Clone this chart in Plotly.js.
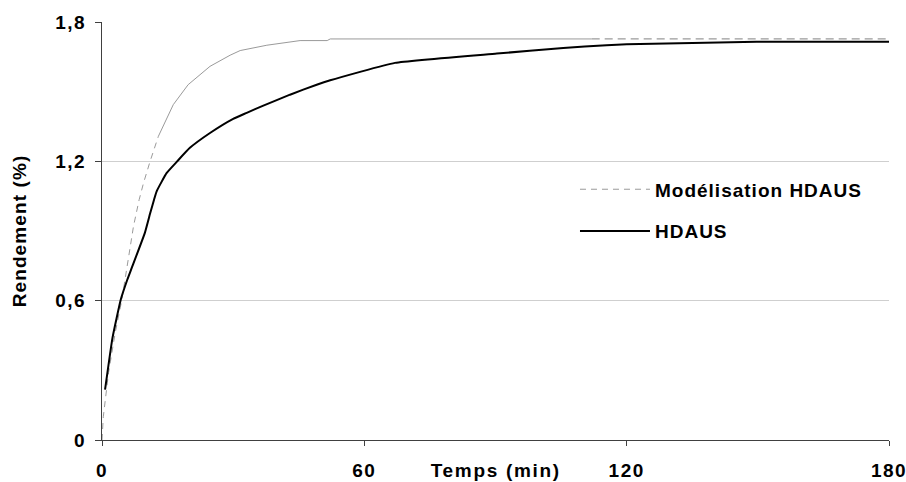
<!DOCTYPE html>
<html>
<head>
<meta charset="utf-8">
<script src="https://cdn.plot.ly/plotly-3.0.1.min.js"></script>
<style>
  html, body { margin: 0; padding: 0; background: #ffffff; }
  #chart { width: 906px; height: 482px; }
  /* wide bold lettering */
  #chart .xtick text, #chart .ytick text { letter-spacing: 1.5px; }
  #chart .annotation-text { letter-spacing: 1.7px; }
  #chart .ytitle { letter-spacing: 1.1px; }
  #chart .legendtext { letter-spacing: 1px; }
  #chart .legend .scrollbox { clip-path: none !important; }
</style>
</head>
<body>
<div id="chart"></div>
<script>
// Rendement (%) en fonction du temps (min)

// Modèle HDAUS
const modelTemps = [0, 0.3, 1.5, 3, 4.5, 5.7, 7.2, 8.5, 9.5, 11, 12.9, 16.3, 19.7, 24.7,
  29.3, 31.6, 37.7, 40.7, 45.3, 51.5, 52.2, 70, 90, 112, 130, 150, 180];
const modelRendement = [0, 0.10, 0.29, 0.46, 0.60, 0.75, 0.92, 1.035, 1.107, 1.20, 1.308,
  1.444, 1.530, 1.609, 1.657, 1.677, 1.700, 1.708, 1.720, 1.720, 1.727, 1.727, 1.727,
  1.727, 1.727, 1.727, 1.727];

// Mesures HDAUS
const mesureTemps = [0.7, 2.4, 4.3, 5.8, 6.8, 9.8, 11.0, 11.9, 12.5, 14.8, 17.2, 20.1,
  24.7, 30.0, 33.1, 36.9, 43.0, 49.1, 52.2, 67.0, 90.3, 105.5, 115.4, 120, 149.7, 180];
const mesureRendement = [0.217, 0.44, 0.605, 0.691, 0.741, 0.892, 0.975, 1.035, 1.071,
  1.150, 1.200, 1.258, 1.322, 1.383, 1.409, 1.440, 1.487, 1.530, 1.549, 1.624, 1.664,
  1.688, 1.700, 1.704, 1.715, 1.715];

const xTicks = [0, 60, 120, 180];
const yTicks = [0, 0.6, 1.2, 1.8];
const yTickText = ['0', '0,6', '1,2', '1,8'];

const nomModele = 'Modélisation HDAUS';
const nomMesure = 'HDAUS';

// The model curve is drawn in three pieces: sparse start and end points
// are dashed, the dense middle section reads as a thin continuous line.
function piece(t0, t1) {
  const xs = [], ys = [];
  modelTemps.forEach((t, i) => {
    if (t >= t0 && t <= t1) { xs.push(t); ys.push(modelRendement[i]); }
  });
  return { x: xs, y: ys };
}
const debut = piece(0, 12.9);
const milieu = piece(12.9, 112);
const fin = piece(112, 180);

const grisModele = '#9a9a9a';
const police = { family: 'Liberation Sans, Arial, sans-serif', size: 19, color: '#000000', weight: 'bold' };

const traces = [
  { x: debut.x, y: debut.y, type: 'scatter', mode: 'lines', name: nomModele,
    legendgroup: 'modele', showlegend: true,
    line: { color: grisModele, width: 1, dash: '6px,5px' } },
  { x: milieu.x, y: milieu.y, type: 'scatter', mode: 'lines', name: nomModele,
    legendgroup: 'modele', showlegend: false,
    line: { color: grisModele, width: 1 } },
  { x: fin.x, y: fin.y, type: 'scatter', mode: 'lines', name: nomModele,
    legendgroup: 'modele', showlegend: false,
    line: { color: grisModele, width: 1.3, dash: '8px,5px' } },
  { x: mesureTemps, y: mesureRendement, type: 'scatter', mode: 'lines', name: nomMesure,
    legendgroup: 'mesure',
    line: { color: '#000000', width: 2, shape: 'spline', smoothing: 0.4 } }
];

const layout = {
  width: 906, height: 482,
  margin: { l: 102, r: 17, t: 22, b: 42 },
  paper_bgcolor: '#ffffff', plot_bgcolor: '#ffffff',
  font: police,
  showlegend: true,
  legend: {
    x: 0.601, y: 0.645, xanchor: 'left', yanchor: 'top',
    font: police, itemwidth: 70, tracegroupgap: 14,
    bgcolor: 'rgba(0,0,0,0)', borderwidth: 0, traceorder: 'grouped'
  },
  xaxis: {
    range: [0, 180], tickvals: xTicks, ticktext: xTicks.map(String),
    showgrid: false, zeroline: false,
    showline: true, linecolor: '#404040', linewidth: 1,
    ticks: 'outside', ticklen: 5, tickcolor: '#404040',
    ticklabelstandoff: 8,
    tickfont: police
  },
  yaxis: {
    range: [0, 1.8], tickvals: yTicks, ticktext: yTickText,
    showgrid: true, gridcolor: '#cfcfcf', gridwidth: 1, zeroline: false,
    showline: true, linecolor: '#404040', linewidth: 1,
    ticks: 'outside', ticklen: 6, tickcolor: '#404040',
    ticklabelstandoff: 5,
    tickfont: police,
    title: { text: 'Rendement (%)', font: police, standoff: 28 }
  },
  annotations: [
    { text: 'Temps (min)', xref: 'paper', yref: 'paper', x: 0.5, y: 0,
      xanchor: 'center', yanchor: 'middle', yshift: -30.5, showarrow: false, font: police }
  ]
};

Plotly.newPlot('chart', traces, layout, { displayModeBar: false, staticPlot: true });
</script>
</body>
</html>
